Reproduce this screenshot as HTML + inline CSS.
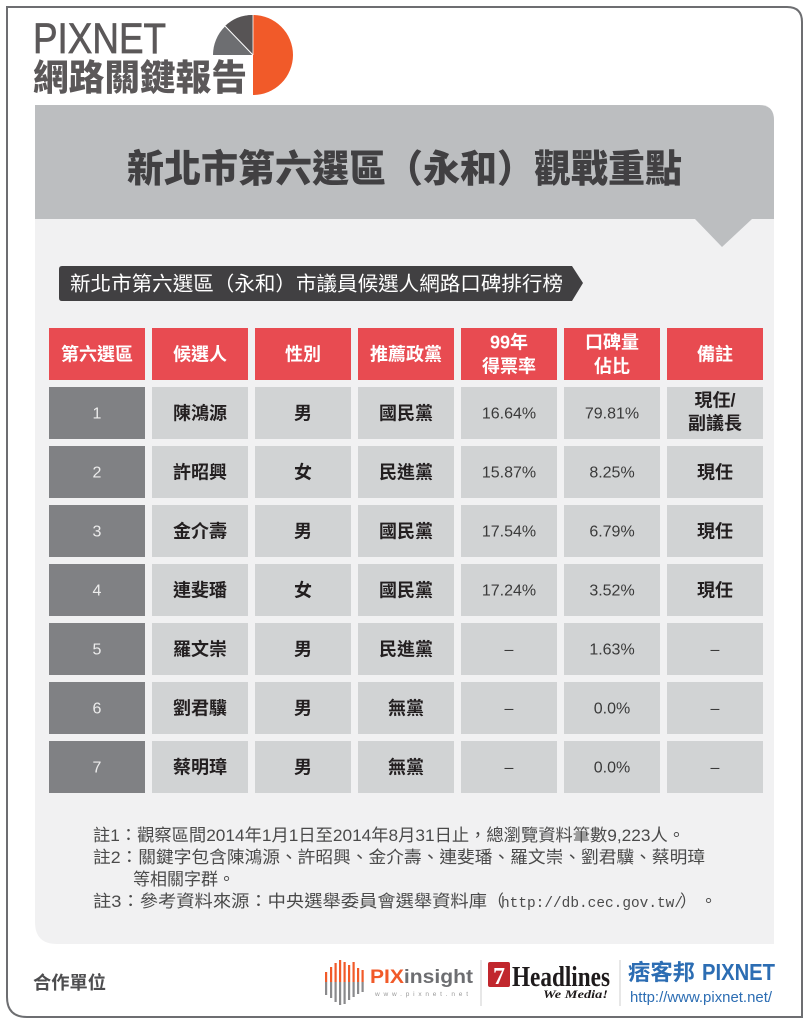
<!DOCTYPE html>
<html><head><meta charset="utf-8">
<style>
html,body{margin:0;padding:0;background:#fff;}
svg{display:block;}
text{font-family:"Liberation Sans","Noto Sans CJK TC",sans-serif;}
.hd{fill:#fff;font-size:18px;font-weight:bold;text-anchor:middle;}
.nm{fill:#231f20;font-size:18px;font-weight:bold;text-anchor:middle;}
.no{fill:#ececec;font-size:16px;text-anchor:middle;}
.pc{fill:#3a3a3a;font-size:16px;text-anchor:middle;}
.nt{fill:#4a4a4a;font-size:17px;}
</style></head>
<body>
<svg width="810" height="1024" viewBox="0 0 810 1024" xmlns="http://www.w3.org/2000/svg">
<rect x="0" y="0" width="810" height="1024" fill="#ffffff"/>
<!-- outer border -->
<path d="M7,7 L787,7 Q802,7 802,22 L802,1017 L27,1017 Q7,1017 7,997 Z" fill="none" stroke="#6d6e71" stroke-width="2"/>

<!-- logo -->
<text x="33" y="53" font-size="43" fill="#5b5859" stroke="#5b5859" stroke-width="0.7" textLength="133" lengthAdjust="spacingAndGlyphs">PIXNET</text>
<text x="33" y="90" font-size="36" font-weight="900" fill="#5b5859" textLength="214" lengthAdjust="spacingAndGlyphs">網路關鍵報告</text>
<path d="M253,15 A40,40 0 0 1 253,95 Z" fill="#f15a29"/>
<path d="M253,55 L213,55 A40,40 0 0 1 253,15 Z" fill="#6d6e71"/>
<path d="M253,55 L225,26 A40,40 0 0 1 253,15 Z" fill="#575455"/>
<line x1="253" y1="55" x2="225" y2="26" stroke="#fff" stroke-width="1"/>
<line x1="253" y1="15" x2="253" y2="55" stroke="#fff" stroke-width="0.8"/>

<!-- title band -->
<path d="M35,105 L759,105 Q774,105 774,120 L774,219 L35,219 Z" fill="#bcbec0"/>
<path d="M35,219 L774,219 L774,944 L57,944 Q35,944 35,922 Z" fill="#f1f1f2"/>
<polygon points="695,219 752,219 722,247" fill="#bcbec0"/>
<text x="127" y="182" font-size="38" font-weight="900" fill="#414042" textLength="555" lengthAdjust="spacingAndGlyphs">新北市第六選區（永和）觀戰重點</text>

<!-- subtitle tag -->
<path d="M62,266 L572,266 L583,283 L572,301 L62,301 Q59,301 59,298 L59,269 Q59,266 62,266 Z" fill="#414042"/>
<text x="70" y="290.5" font-size="20" fill="#ffffff" textLength="493" lengthAdjust="spacingAndGlyphs">新北市第六選區（永和）市議員候選人網路口碑排行榜</text>

<!-- header row -->
<g fill="#e84b51">
<rect x="49" y="328" width="96" height="52"/>
<rect x="152" y="328" width="96" height="52"/>
<rect x="255" y="328" width="96" height="52"/>
<rect x="358" y="328" width="96" height="52"/>
<rect x="461" y="328" width="96" height="52"/>
<rect x="564" y="328" width="96" height="52"/>
<rect x="667" y="328" width="96" height="52"/>
</g>
<text class="hd" x="97" y="360.5">第六選區</text>
<text class="hd" x="200" y="360.5">候選人</text>
<text class="hd" x="303" y="360.5">性別</text>
<text class="hd" x="406" y="360.5">推薦政黨</text>
<text class="hd" x="509" y="348.5">99年</text>
<text class="hd" x="509" y="372.5">得票率</text>
<text class="hd" x="612" y="348.5">口碑量</text>
<text class="hd" x="612" y="372.5">佔比</text>
<text class="hd" x="715" y="360.5">備註</text>

<!-- body rows -->
<g id="rows">
<g fill="#808184">
<rect x="49" y="387" width="96" height="52"/>
<rect x="49" y="446" width="96" height="52"/>
<rect x="49" y="505" width="96" height="52"/>
<rect x="49" y="564" width="96" height="52"/>
<rect x="49" y="623" width="96" height="52"/>
<rect x="49" y="682" width="96" height="52"/>
<rect x="49" y="741" width="96" height="52"/>
</g>
<g fill="#d1d3d4">
<rect x="152" y="387" width="96" height="52"/><rect x="255" y="387" width="96" height="52"/><rect x="358" y="387" width="96" height="52"/><rect x="461" y="387" width="96" height="52"/><rect x="564" y="387" width="96" height="52"/><rect x="667" y="387" width="96" height="52"/>
<rect x="152" y="446" width="96" height="52"/><rect x="255" y="446" width="96" height="52"/><rect x="358" y="446" width="96" height="52"/><rect x="461" y="446" width="96" height="52"/><rect x="564" y="446" width="96" height="52"/><rect x="667" y="446" width="96" height="52"/>
<rect x="152" y="505" width="96" height="52"/><rect x="255" y="505" width="96" height="52"/><rect x="358" y="505" width="96" height="52"/><rect x="461" y="505" width="96" height="52"/><rect x="564" y="505" width="96" height="52"/><rect x="667" y="505" width="96" height="52"/>
<rect x="152" y="564" width="96" height="52"/><rect x="255" y="564" width="96" height="52"/><rect x="358" y="564" width="96" height="52"/><rect x="461" y="564" width="96" height="52"/><rect x="564" y="564" width="96" height="52"/><rect x="667" y="564" width="96" height="52"/>
<rect x="152" y="623" width="96" height="52"/><rect x="255" y="623" width="96" height="52"/><rect x="358" y="623" width="96" height="52"/><rect x="461" y="623" width="96" height="52"/><rect x="564" y="623" width="96" height="52"/><rect x="667" y="623" width="96" height="52"/>
<rect x="152" y="682" width="96" height="52"/><rect x="255" y="682" width="96" height="52"/><rect x="358" y="682" width="96" height="52"/><rect x="461" y="682" width="96" height="52"/><rect x="564" y="682" width="96" height="52"/><rect x="667" y="682" width="96" height="52"/>
<rect x="152" y="741" width="96" height="52"/><rect x="255" y="741" width="96" height="52"/><rect x="358" y="741" width="96" height="52"/><rect x="461" y="741" width="96" height="52"/><rect x="564" y="741" width="96" height="52"/><rect x="667" y="741" width="96" height="52"/>
</g>
</g>

<!-- row 1 -->
<text class="no" x="97" y="418.7">1</text>
<text class="nm" x="200" y="419.5">陳鴻源</text>
<text class="nm" x="303" y="419.5">男</text>
<text class="nm" x="406" y="419.5">國民黨</text>
<text class="pc" x="509" y="418.7">16.64%</text>
<text class="pc" x="612" y="418.7">79.81%</text>
<text class="nm" x="715" y="406.5">現任/</text>
<text class="nm" x="715" y="429.5">副議長</text>
<!-- row 2 -->
<text class="no" x="97" y="477.7">2</text>
<text class="nm" x="200" y="478.5">許昭興</text>
<text class="nm" x="303" y="478.5">女</text>
<text class="nm" x="406" y="478.5">民進黨</text>
<text class="pc" x="509" y="477.7">15.87%</text>
<text class="pc" x="612" y="477.7">8.25%</text>
<text class="nm" x="715" y="478.5">現任</text>
<!-- row 3 -->
<text class="no" x="97" y="536.7">3</text>
<text class="nm" x="200" y="537.5">金介壽</text>
<text class="nm" x="303" y="537.5">男</text>
<text class="nm" x="406" y="537.5">國民黨</text>
<text class="pc" x="509" y="536.7">17.54%</text>
<text class="pc" x="612" y="536.7">6.79%</text>
<text class="nm" x="715" y="537.5">現任</text>
<!-- row 4 -->
<text class="no" x="97" y="595.7">4</text>
<text class="nm" x="200" y="596.5">連斐璠</text>
<text class="nm" x="303" y="596.5">女</text>
<text class="nm" x="406" y="596.5">國民黨</text>
<text class="pc" x="509" y="595.7">17.24%</text>
<text class="pc" x="612" y="595.7">3.52%</text>
<text class="nm" x="715" y="596.5">現任</text>
<!-- row 5 -->
<text class="no" x="97" y="654.7">5</text>
<text class="nm" x="200" y="655.5">羅文崇</text>
<text class="nm" x="303" y="655.5">男</text>
<text class="nm" x="406" y="655.5">民進黨</text>
<text class="pc" x="509" y="654.7">–</text>
<text class="pc" x="612" y="654.7">1.63%</text>
<text class="pc" x="715" y="654.7">–</text>
<!-- row 6 -->
<text class="no" x="97" y="713.7">6</text>
<text class="nm" x="200" y="714.5">劉君驥</text>
<text class="nm" x="303" y="714.5">男</text>
<text class="nm" x="406" y="714.5">無黨</text>
<text class="pc" x="509" y="713.7">–</text>
<text class="pc" x="612" y="713.7">0.0%</text>
<text class="pc" x="715" y="713.7">–</text>
<!-- row 7 -->
<text class="no" x="97" y="772.7">7</text>
<text class="nm" x="200" y="773.5">蔡明璋</text>
<text class="nm" x="303" y="773.5">男</text>
<text class="nm" x="406" y="773.5">無黨</text>
<text class="pc" x="509" y="772.7">–</text>
<text class="pc" x="612" y="772.7">0.0%</text>
<text class="pc" x="715" y="772.7">–</text>

<!-- notes -->
<text class="nt" x="93" y="841" textLength="592" lengthAdjust="spacingAndGlyphs">註1：觀察區間2014年1月1日至2014年8月31日止，總瀏覽資料筆數9,223人。</text>
<text class="nt" x="93" y="863" textLength="612" lengthAdjust="spacingAndGlyphs">註2：關鍵字包含陳鴻源、許昭興、金介壽、連斐璠、羅文崇、劉君驥、蔡明璋</text>
<text class="nt" x="133" y="885" textLength="102" lengthAdjust="spacingAndGlyphs">等相關字群。</text>
<text class="nt" x="93" y="907" textLength="394" lengthAdjust="spacingAndGlyphs">註3：參考資料來源：中央選舉委員會選舉資料庫</text>
<text class="nt" x="487" y="907">（</text>
<text x="501" y="907" font-size="14.5" fill="#4a4a4a" style="font-family:'Liberation Mono',monospace" textLength="182" lengthAdjust="spacingAndGlyphs">http://db.cec.gov.tw/</text>
<text class="nt" x="680" y="907">）</text>
<text class="nt" x="700" y="907">。</text>

<!-- footer -->
<text x="33" y="989" font-size="18" font-weight="bold" fill="#4d4d4f" textLength="73" lengthAdjust="spacingAndGlyphs">合作單位</text>

<!-- PIXinsight bars -->
<g>
<rect x="325" y="972" width="2.2" height="10" fill="#f15a29"/><rect x="325" y="982" width="2.2" height="13" fill="#8a8a8c"/>
<rect x="330" y="967" width="2.2" height="15" fill="#f15a29"/><rect x="330" y="982" width="2.2" height="16" fill="#8a8a8c"/>
<rect x="334.5" y="963" width="2.2" height="19" fill="#f15a29"/><rect x="334.5" y="982" width="2.2" height="20" fill="#8a8a8c"/>
<rect x="339" y="960" width="2.2" height="22" fill="#f15a29"/><rect x="339" y="982" width="2.2" height="23" fill="#8a8a8c"/>
<rect x="343.5" y="962" width="2.2" height="20" fill="#f15a29"/><rect x="343.5" y="982" width="2.2" height="22" fill="#8a8a8c"/>
<rect x="348" y="965" width="2.2" height="17" fill="#f15a29"/><rect x="348" y="982" width="2.2" height="18" fill="#8a8a8c"/>
<rect x="352.5" y="962" width="2.2" height="20" fill="#f15a29"/><rect x="352.5" y="982" width="2.2" height="15" fill="#8a8a8c"/>
<rect x="357" y="968" width="2.2" height="14" fill="#f15a29"/><rect x="357" y="982" width="2.2" height="12" fill="#8a8a8c"/>
<rect x="361.5" y="970" width="2.2" height="12" fill="#f15a29"/><rect x="361.5" y="982" width="2.2" height="10" fill="#8a8a8c"/>
</g>
<text x="370" y="983" font-size="19" font-weight="bold" textLength="103" lengthAdjust="spacingAndGlyphs"><tspan fill="#f15a29">PIX</tspan><tspan fill="#6d6e71">insight</tspan></text>
<text x="375" y="996" font-size="6.5" fill="#9a9a9a" textLength="93" lengthAdjust="spacing">www.pixnet.net</text>
<line x1="481" y1="960" x2="481" y2="1006" stroke="#cfcfcf" stroke-width="1"/>

<!-- 7 Headlines -->
<rect x="488" y="962" width="22" height="25" rx="2" fill="#c1272d"/>
<text x="499" y="984" font-size="24" font-weight="bold" fill="#ffffff" text-anchor="middle" style="font-family:'Liberation Serif',serif">7</text>
<text x="512" y="986" font-size="28" font-weight="bold" fill="#1e1a1b" style="font-family:'Liberation Serif',serif" textLength="98" lengthAdjust="spacingAndGlyphs">Headlines</text>
<text x="543" y="998" font-size="12" font-style="italic" font-weight="bold" fill="#1e1a1b" style="font-family:'Liberation Serif',serif" textLength="65" lengthAdjust="spacingAndGlyphs">We Media!</text>
<line x1="620" y1="960" x2="620" y2="1006" stroke="#cfcfcf" stroke-width="1"/>

<!-- PIXNET blue -->
<text x="628" y="980" font-size="22" font-weight="bold" fill="#2c6db3" textLength="67" lengthAdjust="spacingAndGlyphs">痞客邦</text>
<text x="702" y="980" font-size="23" font-weight="bold" fill="#2c6db3" textLength="73" lengthAdjust="spacingAndGlyphs">PIXNET</text>
<text x="630" y="1002" font-size="14.5" fill="#2c6db3" textLength="142" lengthAdjust="spacingAndGlyphs">http://www.pixnet.net/</text>
</svg>
</body></html>
